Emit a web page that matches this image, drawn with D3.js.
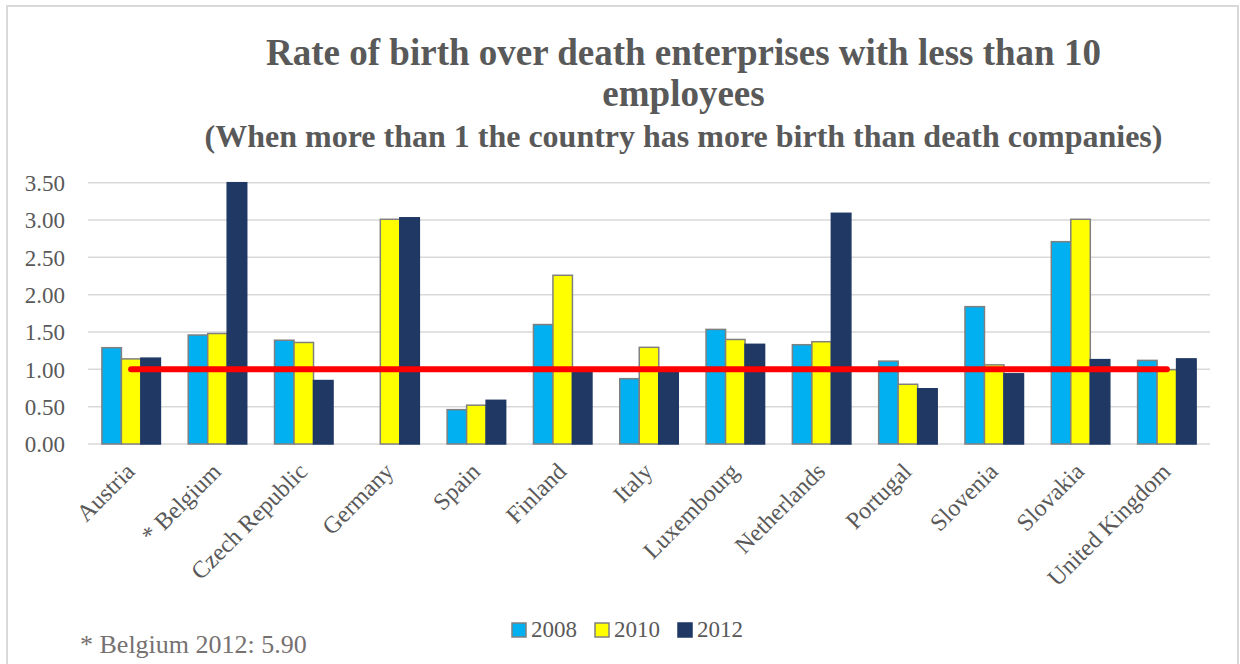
<!DOCTYPE html>
<html><head><meta charset="utf-8">
<script src="https://cdn.jsdelivr.net/npm/d3@7"></script>
<style>
body{margin:0;background:#fff;}
svg{display:block;}
text{font-family:"Liberation Serif","Times New Roman",serif;}
</style></head>
<body><svg id="c" width="1240" height="664"></svg>
<script>
const categories = ["Austria","* Belgium","Czech Republic","Germany","Spain","Finland","Italy","Luxembourg","Netherlands","Portugal","Slovenia","Slovakia","United Kingdom"];
const years = ["2008","2010","2012"];
const v2008 = [1.29,1.46,1.39,null,0.46,1.60,0.875,1.535,1.33,1.11,1.84,2.71,1.12];
const v2010 = [1.14,1.48,1.36,3.01,0.52,2.26,1.295,1.40,1.37,0.80,1.06,3.01,0.995];
const v2012 = [1.15,5.90,0.85,3.03,0.585,0.98,0.97,1.335,3.09,0.74,0.94,1.13,1.14];
const threshold = [1,1,1,1,1,1,1,1,1,1,1,1,1];
const yTicks = [0,0.5,1,1.5,2,2.5,3,3.5];
const colors = ["#00B0F0","#FFFF00","#1F3864"];
const strokes = ["#808080","#808080","#1F3864"];
const series = [v2008,v2010,v2012];

const FF = "Liberation Serif";
const svg = d3.select("#c");
const gray = "#595959";

svg.append("rect").attr("x",7).attr("y",6).attr("width",1231).attr("height",700)
  .attr("fill","none").attr("stroke","#D9D9D9").attr("stroke-width",2);

const x = d3.scaleBand().domain(categories).range([88,1210]).padding(0);
const xs = d3.scaleBand().domain(years).range([x.bandwidth()*0.161, x.bandwidth()*0.839]).padding(0);
const y = d3.scaleLinear().domain([0,3.5]).range([444,182.7]).clamp(true);

svg.append("g").selectAll("line").data(yTicks).join("line")
  .attr("x1",88).attr("x2",1210).attr("y1",d=>y(d)).attr("y2",d=>y(d))
  .attr("stroke","#D9D9D9").attr("stroke-width",1.5);

const yAxis = d3.axisLeft(y).tickValues(yTicks).tickFormat(d3.format(".2f")).tickSize(0).tickPadding(23);
const ga = svg.append("g").attr("transform","translate(88,0)").call(yAxis);
ga.attr("font-family",FF);
ga.select(".domain").remove();
ga.selectAll("text").attr("font-size",23).attr("fill",gray).attr("font-family",FF).attr("dy","0.34em");

const groups = svg.append("g").selectAll("g").data(categories).join("g")
  .attr("transform",d=>`translate(${x(d)},0)`);
groups.selectAll("rect").data((d,i)=>years.map((yr,k)=>({yr,k,v:series[k][i]})).filter(e=>e.v!=null))
  .join("rect")
  .attr("x",e=>xs(e.yr)).attr("width",xs.bandwidth())
  .attr("y",e=>y(e.v)).attr("height",e=>y(0)-y(e.v))
  .attr("fill",e=>colors[e.k]).attr("stroke",e=>strokes[e.k]).attr("stroke-width",1.5);

const xAxis = d3.axisBottom(x).tickSize(0).tickPadding(0);
const gx = svg.append("g").attr("transform","translate(0,444)").call(xAxis);
gx.attr("font-family",FF);
gx.select(".domain").remove();
gx.selectAll("text").attr("font-size",24).attr("fill",gray).attr("font-family",FF)
  .attr("text-anchor","end").attr("dy",0).attr("y",0)
  .attr("transform","translate(5,29) rotate(-45)");

const line = d3.line().x((d,i)=>x(categories[i])+x.bandwidth()/2).y(d=>y(d));
svg.append("path").datum(threshold).attr("d",line).attr("fill","none")
  .attr("stroke","#FF0000").attr("stroke-width",6).attr("stroke-linecap","round");

const t = svg.append("g").attr("fill",gray).attr("font-weight","bold").attr("text-anchor","middle").attr("font-family",FF);
t.append("text").attr("x",683.5).attr("y",65).attr("font-size",37).attr("font-family",FF).text("Rate of birth over death enterprises with less than 10");
t.append("text").attr("x",683.5).attr("y",106).attr("font-size",37).attr("font-family",FF).text("employees");
t.append("text").attr("x",683.5).attr("y",147).attr("font-size",32).attr("font-family",FF).text("(When more than 1 the country has more birth than death companies)");

const lg = svg.append("g").selectAll("g").data(years).join("g")
  .attr("transform",(d,i)=>`translate(${[512,595,678][i]},623)`);
lg.append("rect").attr("width",14).attr("height",14).attr("fill",(d,i)=>colors[i]).attr("stroke",(d,i)=>strokes[i]).attr("stroke-width",1.5);
lg.append("text").attr("x",19).attr("y",14).attr("font-size",23).attr("fill",gray).attr("font-family",FF).text(d=>d);

svg.append("text").attr("x",80).attr("y",653).attr("font-size",26).attr("fill","#767171").attr("font-family",FF).text("* Belgium 2012: 5.90");
</script></body></html>
